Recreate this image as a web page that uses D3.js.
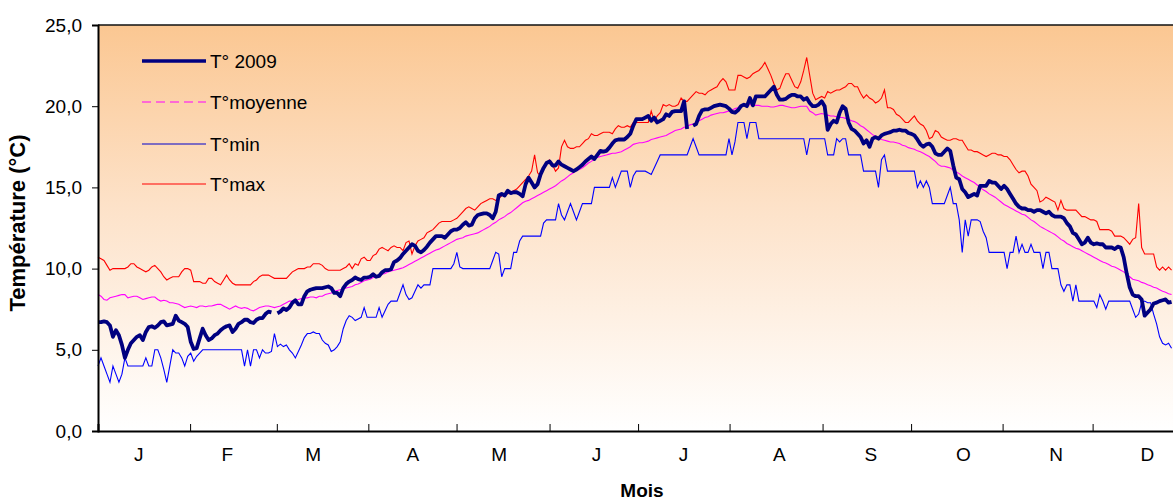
<!DOCTYPE html>
<html><head><meta charset="utf-8">
<script src="https://cdn.jsdelivr.net/npm/d3@7/dist/d3.min.js"></script>
<style>html,body{margin:0;padding:0;background:#fff;overflow:hidden}svg{display:block;font-family:"Liberation Sans",Arial,sans-serif}</style>
</head><body>
<svg id="chart" width="1173" height="501"></svg>
<script>
// ---- data (daily values, day 0 = 1 January) ----
const monthLabels = ["J","F","M","A","M","J","J","A","S","O","N","D"];
const monthLabelDays = [13.5,43.1,71.8,105.1,134,166.5,195.6,227.7,258.3,289.2,320.2,350.7];
const monthTickDays = [30.8,59.8,90.4,119.9,151,180.6,211.2,242.3,271.9,302.5,332.6];
const yTicks = [0,5,10,15,20,25];
const seriesNames = ["T° 2009","T°moyenne","T°min","T°max"];

const tMax = [
10.7,10.6,10.5,10.2,9.9,10.0,10.0,10.0,10.0,10.0,
10.1,10.3,10.3,10.1,10.0,9.9,9.8,9.9,10.1,10.2,
10.0,9.8,9.5,9.3,9.4,9.5,9.5,9.5,9.8,10.0,
10.0,9.9,9.2,9.2,9.2,9.1,9.1,9.4,9.4,9.2,
9.1,9.0,9.3,9.6,9.3,9.1,9.0,9.0,9.0,9.0,
9.0,9.0,9.2,9.3,9.5,9.6,9.6,9.6,9.5,9.4,
9.4,9.4,9.4,9.4,9.6,9.8,9.9,10.0,10.0,10.0,
10.1,10.1,10.3,10.3,10.3,10.2,10.0,9.9,9.9,9.9,
9.9,9.9,10.0,10.1,10.3,10.0,10.3,10.2,10.6,10.7,
10.5,10.5,10.8,10.9,11.2,11.3,11.2,11.1,11.3,11.4,
11.3,11.3,11.1,11.6,11.7,10.9,11.4,11.7,11.8,11.9,
12.2,12.3,12.4,12.6,12.8,12.9,12.9,12.9,12.9,13.0,
13.1,13.3,13.5,13.7,13.8,13.7,13.6,13.8,14.0,14.1,
14.2,14.3,14.3,14.2,14.3,14.5,14.6,14.6,14.7,14.8,
14.9,15.1,15.3,15.5,15.7,16.0,17.0,15.9,15.7,16.3,
16.5,16.7,16.4,16.0,16.2,17.5,17.9,17.5,17.4,17.4,
17.5,17.5,17.7,17.9,18.0,18.3,18.2,18.2,18.3,18.4,
18.4,18.4,18.3,18.6,18.8,18.7,18.7,18.8,18.7,19.0,
19.0,19.0,19.0,19.0,19.0,19.7,19.1,19.4,19.6,20.1,
20.0,20.1,20.0,20.0,20.1,20.5,20.3,20.3,20.5,20.7,
20.9,20.8,20.8,20.7,20.9,21.0,21.1,21.2,21.5,21.7,
21.5,21.0,21.0,21.0,21.9,21.9,21.8,21.7,21.8,22.0,
22.1,22.2,22.4,22.7,22.3,21.9,21.4,21.0,21.1,21.6,
22.0,22.0,21.6,21.2,21.1,21.5,22.2,23.0,21.9,20.8,
20.4,20.5,20.6,20.5,20.9,20.8,20.9,21.0,21.0,21.1,
21.2,21.4,21.4,21.2,21.2,20.8,20.5,20.7,20.5,20.4,
20.2,20.3,20.5,21.0,19.9,19.9,19.8,19.5,19.4,19.2,
19.0,19.0,19.2,19.4,19.1,18.9,18.8,18.5,18.0,18.1,
18.5,18.4,18.1,18.0,17.9,17.9,18.0,18.0,17.9,17.9,
17.6,17.3,17.3,17.2,17.2,17.1,17.0,16.9,17.0,17.1,
17.1,17.0,17.0,16.9,16.9,16.7,16.4,16.1,15.9,16.0,
16.0,15.7,15.2,15.0,14.8,14.1,14.2,14.4,14.3,14.2,
14.1,13.6,14.2,13.7,13.6,13.6,13.6,13.6,13.4,13.2,
13.2,13.1,13.0,13.0,12.9,12.4,12.4,12.4,12.4,12.3,
12.0,12.0,12.0,11.9,11.7,11.5,11.8,11.9,14.0,11.3,
10.9,10.9,10.9,10.9,10.1,9.9,10.1,9.9,10.1,9.9
];

const tMoy = [
8.4,8.3,8.1,8.05,8.2,8.25,8.3,8.35,8.4,8.4,
8.2,8.25,8.3,8.3,8.2,8.1,8.15,8.2,8.25,8.25,
8.1,8.0,8.05,8.0,7.9,7.9,7.85,7.8,7.7,7.6,
7.65,7.7,7.65,7.6,7.7,7.7,7.65,7.7,7.7,7.75,
7.8,7.8,7.7,7.6,7.5,7.6,7.7,7.6,7.55,7.6,
7.55,7.45,7.4,7.5,7.6,7.65,7.7,7.7,7.65,7.6,
7.65,7.7,7.8,7.9,8.0,8.0,8.05,8.1,8.15,8.2,
8.2,8.25,8.25,8.2,8.3,8.3,8.4,8.45,8.5,8.6,
8.65,8.7,8.75,8.8,8.85,8.9,9.0,9.05,9.15,9.25,
9.3,9.35,9.45,9.5,9.6,9.65,9.7,9.8,9.85,9.9,
9.95,10.0,10.05,10.15,10.25,10.35,10.45,10.55,10.65,10.75,
10.85,10.95,11.05,11.15,11.2,11.3,11.4,11.5,11.6,11.7,
11.8,11.85,11.9,12.0,12.05,12.1,12.15,12.2,12.3,12.4,
12.5,12.6,12.75,12.85,13.0,13.1,13.2,13.35,13.45,13.6,
13.75,13.9,14.05,14.15,14.2,14.3,14.4,14.5,14.6,14.7,
14.8,14.9,15.0,15.1,15.25,15.4,15.5,15.65,15.8,15.9,
16.05,16.1,16.2,16.35,16.5,16.6,16.75,16.85,16.9,16.95,
17.0,17.05,17.1,17.1,17.15,17.2,17.3,17.4,17.5,17.65,
17.7,17.75,17.75,17.8,17.85,17.95,18.0,18.05,18.1,18.15,
18.2,18.3,18.4,18.5,18.55,18.6,18.7,18.75,18.85,18.9,
19.0,19.1,19.2,19.3,19.35,19.45,19.5,19.55,19.6,19.6,
19.65,19.7,19.75,19.85,19.9,20.0,20.05,20.05,20.1,20.05,
20.05,20.05,20.0,20.0,20.0,19.95,19.95,20.0,20.05,20.05,
20.0,19.95,19.9,19.9,19.95,20.0,20.0,20.0,19.7,19.6,
19.45,19.5,19.55,19.5,19.45,19.4,19.4,19.35,19.3,19.3,
19.25,19.2,19.1,19.05,18.95,18.8,18.7,18.55,18.4,18.25,
18.15,18.05,17.95,17.9,17.85,17.8,17.8,17.75,17.7,17.6,
17.55,17.45,17.4,17.35,17.25,17.2,17.1,17.0,16.9,16.75,
16.6,16.4,16.3,16.3,16.25,16.2,16.05,15.95,15.85,15.7,
15.6,15.5,15.4,15.3,15.15,15.0,14.85,14.75,14.6,14.5,
14.4,14.25,14.1,13.95,13.85,13.75,13.65,13.55,13.45,13.35,
13.3,13.15,13.0,12.9,12.75,12.6,12.5,12.4,12.3,12.2,
12.1,11.95,11.8,11.7,11.55,11.45,11.35,11.25,11.2,11.1,
11.0,10.9,10.8,10.7,10.6,10.5,10.4,10.35,10.25,10.15,
10.1,10.0,9.9,9.8,9.65,9.5,9.35,9.3,9.25,9.15,
9.1,9.0,8.95,8.85,8.8,8.7,8.6,8.55,8.45,8.4
];

const t2009 = [
6.7,6.7,6.75,6.7,6.5,5.8,6.2,5.9,5.3,4.5,
5.0,5.4,5.6,5.8,5.9,5.6,6.1,6.4,6.45,6.35,
6.5,6.7,6.75,6.5,6.55,6.6,7.1,6.8,6.7,6.6,
6.4,5.5,5.05,5.1,5.7,6.3,5.9,5.6,5.7,5.9,
6.0,6.2,6.35,6.45,6.5,6.1,6.3,6.6,6.7,6.85,
6.85,6.7,6.65,6.85,6.95,6.95,7.2,7.35,7.3,null,
7.25,7.35,7.55,7.45,7.6,7.9,8.05,7.8,7.8,8.3,
8.6,8.7,8.75,8.8,8.8,8.8,8.85,8.9,8.8,8.5,
8.5,8.3,8.8,9.05,9.2,9.3,9.45,9.35,9.3,9.45,
9.45,9.5,9.65,9.5,9.55,9.77,9.9,9.9,9.96,10.4,
10.5,10.65,10.9,11.1,11.3,11.5,11.4,11.1,11.0,11.15,
11.35,11.6,11.8,12.0,12.0,12.0,11.9,12.1,12.3,12.4,
12.4,12.5,12.7,12.85,12.65,12.7,13.1,13.3,13.35,13.4,
13.4,13.3,13.1,13.5,14.5,14.6,14.5,14.8,14.65,14.7,
14.7,14.6,14.45,15.2,15.6,15.3,15.0,15.2,15.8,16.2,
16.5,16.6,16.35,16.35,16.6,16.4,16.3,16.2,16.1,16.0,
16.1,16.25,16.4,16.6,16.75,16.9,16.75,17.0,17.25,17.2,
17.25,17.45,17.7,17.9,17.95,17.95,17.95,18.1,18.3,18.8,
19.2,19.2,19.2,19.3,19.4,19.1,19.3,19.0,19.1,19.2,
19.5,19.4,19.65,19.7,19.7,19.7,20.3,18.6,null,18.8,
18.9,19.4,19.75,19.8,19.8,19.9,20.0,20.05,20.1,20.05,
20.0,19.85,19.65,19.6,19.75,20.0,20.1,20.0,20.5,20.05,
20.6,20.6,20.6,20.6,20.8,21.0,21.2,20.7,20.4,20.4,
20.45,20.6,20.7,20.7,20.6,20.6,20.4,20.5,20.2,20.0,
20.0,20.1,20.3,20.0,18.55,18.9,19.1,19.0,19.6,20.0,
19.85,19.0,18.6,18.5,18.3,18.1,17.7,17.9,17.5,18.0,
18.1,18.0,18.2,18.3,18.35,18.4,18.5,18.5,18.55,18.5,
18.5,18.35,18.3,18.2,17.95,17.65,17.5,17.65,17.7,17.5,
17.1,17.0,17.0,17.2,17.4,17.25,16.35,15.6,15.5,14.9,
14.7,14.4,14.5,14.6,14.5,15.1,15.1,15.1,15.4,15.3,
15.3,15.1,14.9,15.1,14.9,14.6,14.3,14.0,13.8,13.7,
13.7,13.6,13.6,13.5,13.6,13.6,13.5,13.4,13.5,13.3,
13.2,13.2,13.2,13.1,12.8,12.6,12.2,12.1,11.8,11.5,
11.6,11.9,11.6,11.5,11.55,11.5,11.5,11.3,11.3,11.3,
11.2,11.35,11.3,10.7,9.7,8.85,8.4,8.3,8.3,8.1,
7.1,7.3,7.5,7.85,7.9,8.0,8.05,8.1,7.9,7.95
];

const tMin = [
4.0,4.5,4.0,3.5,3.0,4.0,3.5,3.0,3.5,4.5,
4.0,4.0,4.0,4.0,4.0,4.0,4.5,4.0,4.0,5.0,
5.0,4.5,3.8,3.0,4.0,5.0,4.8,4.8,4.5,4.0,
4.6,4.8,4.3,4.6,4.8,5.0,5.0,5.0,5.0,5.0,
5.0,5.0,5.0,5.0,5.0,5.0,5.0,5.0,5.0,4.0,
5.0,4.0,5.0,5.0,4.5,5.0,4.8,4.8,4.9,6.0,
5.2,5.35,5.2,5.3,5.0,4.8,4.5,4.9,5.3,5.75,
6.0,6.0,6.1,6.0,6.0,5.6,5.4,5.3,4.9,5.0,
5.2,5.5,6.3,6.8,7.1,7.0,6.8,6.9,7.0,7.6,
7.0,7.0,7.0,7.0,7.6,7.0,7.4,7.8,8.0,8.0,
8.0,8.5,9.0,8.4,8.1,8.2,8.6,9.0,8.8,9.0,
9.0,9.0,10.0,10.0,10.0,10.0,10.0,10.0,10.0,10.3,
11.0,10.1,10.0,10.0,10.0,10.0,10.0,10.0,10.0,10.0,
10.0,10.0,10.5,11.0,10.9,9.5,10.0,10.0,10.0,11.0,
11.0,11.7,12.0,12.0,12.0,12.0,12.0,12.0,12.0,12.8,
13.0,13.0,13.0,13.0,14.0,13.3,13.0,13.5,14.0,13.5,
13.0,13.5,14.0,14.0,14.0,14.0,15.0,15.0,15.0,15.0,
15.0,15.0,15.6,15.0,15.5,16.0,16.0,16.0,15.0,15.7,
16.0,16.0,16.0,16.0,15.9,15.8,16.2,16.6,17.0,17.0,
17.0,17.0,17.0,17.0,17.0,17.0,17.0,17.0,17.5,18.0,
17.5,17.0,17.0,17.0,17.0,17.0,17.0,17.0,17.0,17.0,
17.0,18.0,17.0,17.8,19.0,19.0,19.0,18.0,19.0,19.0,
19.0,18.0,18.0,18.0,18.0,18.0,18.0,18.0,18.0,18.0,
18.0,18.0,18.0,18.0,18.0,18.0,18.0,17.0,18.0,18.0,
18.0,18.0,18.0,18.0,17.0,17.0,17.0,18.0,17.8,18.0,
18.0,17.0,17.0,17.0,17.0,17.0,16.0,16.0,16.0,16.0,
16.0,15.0,16.7,17.0,16.0,16.0,16.0,16.0,16.0,16.0,
16.0,16.0,16.0,16.0,15.0,15.4,15.0,15.4,15.0,14.0,
14.0,14.0,14.0,14.0,14.5,15.0,14.0,14.0,13.0,11.0,
13.0,12.0,13.0,13.0,13.0,12.9,12.3,11.9,11.0,11.0,
11.0,11.0,11.0,11.0,10.0,11.0,11.0,12.0,11.0,11.5,
11.0,11.0,11.5,11.0,11.0,11.0,10.0,11.0,11.0,10.0,
10.0,10.0,9.0,8.6,9.0,9.0,8.0,9.0,8.0,8.0,
8.0,8.0,8.0,8.0,7.6,8.4,8.0,7.5,8.0,8.0,
8.0,8.0,8.0,8.0,8.0,8.0,7.5,7.0,7.2,7.9,
8.0,7.9,7.9,7.2,6.6,5.8,5.4,5.3,5.4,5.1
];

// ---- drawing ----
const svg = d3.select("#chart");
const font = '"Liberation Sans", Arial, sans-serif';

const x = d3.scaleLinear().domain([0, 365]).range([98, 1189.5]);
const y = d3.scaleLinear().domain([0, 25]).range([431, 25]);

const defs = svg.append("defs");
const grad = defs.append("linearGradient").attr("id","bg").attr("x1",0).attr("y1",0).attr("x2",0).attr("y2",1);
grad.append("stop").attr("offset","0%").attr("stop-color","#FBC792");
grad.append("stop").attr("offset","45%").attr("stop-color","#FDE2C9");
grad.append("stop").attr("offset","100%").attr("stop-color","#FFFFFF");

svg.append("rect").attr("x",0).attr("y",0).attr("width",1173).attr("height",501).attr("fill","#fff");
svg.append("rect")
  .attr("x", x(0)).attr("y", y(25))
  .attr("width", x(365) - x(0)).attr("height", y(0) - y(25))
  .attr("fill", "url(#bg)");

// top frame line
svg.append("line").attr("x1", x(0)).attr("x2", x(365)).attr("y1", y(25)).attr("y2", y(25))
  .attr("stroke", "#111").attr("stroke-width", 1.6);

const line = d3.line()
  .defined(v => v !== null && v !== undefined)
  .x((v, i) => x(i))
  .y(v => y(v));

const g = svg.append("g");
g.append("path").datum(tMin).attr("d", line).attr("fill","none").attr("stroke","#0000FF").attr("stroke-width",1.1);
g.append("path").datum(tMax).attr("d", line).attr("fill","none").attr("stroke","#FF0000").attr("stroke-width",1.1);
g.append("path").datum(tMoy).attr("d", line).attr("fill","none").attr("stroke","#FF00FF").attr("stroke-width",1.1);
g.append("path").datum(t2009).attr("d", line).attr("fill","none").attr("stroke","#000080").attr("stroke-width",3.8).attr("stroke-linejoin","round");

// y axis
const yAxis = d3.axisLeft(y).tickValues(yTicks).tickSize(6).tickPadding(10)
  .tickFormat(d => d3.format(".1f")(d).replace(".", ","));
const ya = svg.append("g").attr("transform", `translate(${x(0)},0)`).call(yAxis);
ya.select(".domain").attr("stroke","#000").attr("stroke-width",2);
ya.selectAll(".tick line").attr("stroke","#000").attr("stroke-width",1);
ya.selectAll("text").attr("font-family", font).attr("font-size", "19px").attr("fill","#000");

// x axis: month boundaries (ticks) and month letters
const xAxis = d3.axisBottom(x).tickValues(monthTickDays).tickSize(-7).tickFormat("");
const xa = svg.append("g").attr("transform", `translate(0,${y(0)})`).call(xAxis);
xa.select(".domain").attr("stroke","#000").attr("stroke-width",2);
xa.selectAll(".tick line").attr("stroke","#000").attr("stroke-width",1);

const xLab = d3.axisBottom(x).tickValues(monthLabelDays).tickSize(0).tickPadding(17)
  .tickFormat((d, i) => monthLabels[i]);
const xl = svg.append("g").attr("transform", `translate(0,${y(0)})`).call(xLab);
xl.select(".domain").remove();
xl.selectAll("text").attr("font-family", font).attr("font-size", "19px").attr("fill","#000");

// axis titles
svg.append("text").attr("x", 642).attr("y", 497).attr("text-anchor","middle")
  .attr("font-family", font).attr("font-weight","bold").attr("font-size","19px").text("Mois");
svg.append("text").attr("transform","translate(25,223) rotate(-90)").attr("text-anchor","middle")
  .attr("font-family", font).attr("font-weight","bold").attr("font-size","22px").text("Température (°C)");

// legend
const legendY = [61, 102, 144, 184];
const legendStyle = [
  {c:"#000080", w:3.4, dash:null},
  {c:"#FF00FF", w:1.2, dash:"9,5"},
  {c:"#0000CC", w:1.2, dash:null},
  {c:"#FF0000", w:1.2, dash:null}
];
const lg = svg.append("g");
seriesNames.forEach((name, i) => {
  lg.append("line").attr("x1",142).attr("x2",206).attr("y1",legendY[i]).attr("y2",legendY[i])
    .attr("stroke", legendStyle[i].c).attr("stroke-width", legendStyle[i].w)
    .attr("stroke-dasharray", legendStyle[i].dash);
  lg.append("text").attr("x",210).attr("y",legendY[i]).attr("dy","0.35em")
    .attr("font-family", font).attr("font-size","19px").attr("fill","#000").text(name);
});
</script>
</body></html>
